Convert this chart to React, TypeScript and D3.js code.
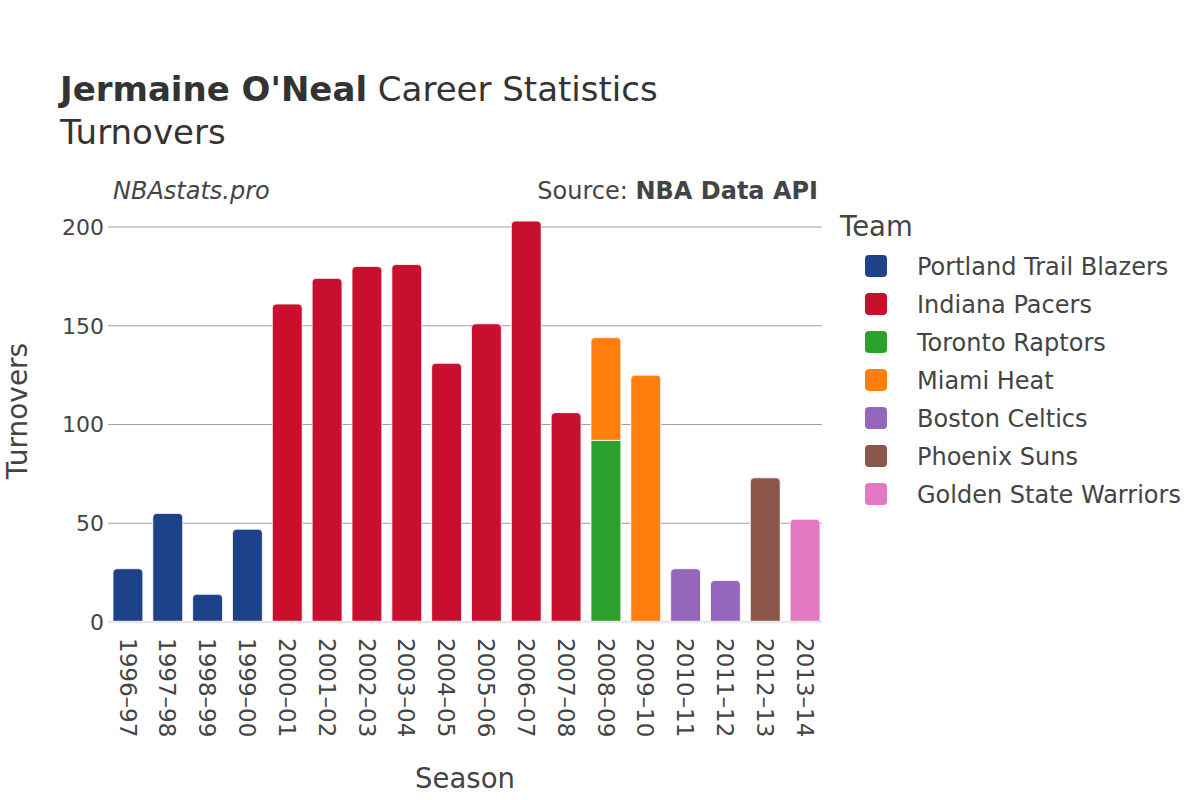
import React from "react";
import * as d3 from "d3";

const seasons = ["1996–97","1997–98","1998–99","1999–00","2000–01","2001–02","2002–03","2003–04","2004–05","2005–06","2006–07","2007–08","2008–09","2009–10","2010–11","2011–12","2012–13","2013–14"];
const teams = ["Portland Trail Blazers","Indiana Pacers","Toronto Raptors","Miami Heat","Boston Celtics","Phoenix Suns","Golden State Warriors"];
const teamColors = ["#1d428a","#c8102e","#2ca02c","#ff7f0e","#9467bd","#8c564b","#e377c2"];
const portland = [27,55,14,47,0,0,0,0,0,0,0,0,0,0,0,0,0,0];
const indiana = [0,0,0,0,161,174,180,181,131,151,203,106,0,0,0,0,0,0];
const toronto = [0,0,0,0,0,0,0,0,0,0,0,0,92,0,0,0,0,0];
const miami = [0,0,0,0,0,0,0,0,0,0,0,0,52,125,0,0,0,0];
const boston = [0,0,0,0,0,0,0,0,0,0,0,0,0,0,27,21,0,0];
const phoenix = [0,0,0,0,0,0,0,0,0,0,0,0,0,0,0,0,73,0];
const warriors = [0,0,0,0,0,0,0,0,0,0,0,0,0,0,0,0,0,52];
const yTicks = [0,50,100,150,200];

const seriesValues = [portland, indiana, toronto, miami, boston, phoenix, warriors];

const FONT = "'DejaVu Sans', sans-serif";

function topRoundedPath(x: number, y0: number, w: number, y1: number, r: number) {
  const h = y0 - y1;
  const rr = Math.min(r, h, w / 2);
  return `M${x},${y0}L${x},${y1 + rr}Q${x},${y1} ${x + rr},${y1}L${x + w - rr},${y1}Q${x + w},${y1} ${x + w},${y1 + rr}L${x + w},${y0}Z`;
}

export default function App() {
  const width = 1200, height = 800;
  const x = d3.scaleBand<string>().domain(seasons).range([108, 825]).paddingInner(0.25).paddingOuter(0.125);
  const y = d3.scaleLinear().domain([0, 200]).range([622, 227]);

  const table = seasons.map((s, i) => {
    const row: any = { season: s };
    teams.forEach((t, j) => (row[t] = seriesValues[j][i]));
    return row;
  });
  const stacked = d3.stack<any>().keys(teams)(table);

  const topIdx = seasons.map((_, i) => {
    let k = -1;
    seriesValues.forEach((arr, j) => { if (arr[i] > 0) k = j; });
    return k;
  });

  const bw = x.bandwidth();

  return (
    <svg width={width} height={height} style={{ display: "block", position: "absolute", left: 0, top: 0, background: "#fff" }}>
      {yTicks.filter(t => t > 0).map(t => (
        <line key={t} x1={108} x2={822} y1={y(t)} y2={y(t)} stroke="#a0a0a0" strokeWidth={1} />
      ))}
      {stacked.map((layer, j) => (
        <g key={teams[j]}>
          {layer.map((d, i) => {
            const v = seriesValues[j][i];
            if (!v) return null;
            const x0 = x(seasons[i])!;
            const yb = y(d[0]);
            const yt = y(d[1]);
            const path = topIdx[i] === j
              ? topRoundedPath(x0, yb, bw, yt, 4)
              : `M${x0},${yb}L${x0},${yt}L${x0 + bw},${yt}L${x0 + bw},${yb}Z`;
            return <path key={i} d={path} fill={teamColors[j]} stroke="#fff" strokeWidth={0.8} />;
          })}
        </g>
      ))}
      <line x1={108} x2={822} y1={y(0)} y2={y(0)} stroke="#e8e8e8" strokeWidth={2.5} />
      {yTicks.map(t => (
        <text key={t} x={104} y={y(t)} dy="0.36em" textAnchor="end" fontFamily={FONT} fontSize={22} fill="#444">{t}</text>
      ))}
      {seasons.map(s => (
        <text key={s} transform={`translate(${x(s)! + bw / 2},638) rotate(90)`} dy="0.36em" textAnchor="start" fontFamily={FONT} fontSize={23} fill="#444">{s}</text>
      ))}
      <text x={465} y={788} textAnchor="middle" fontFamily={FONT} fontSize={27.5} fill="#444">Season</text>
      <text transform="translate(27,411) rotate(-90)" textAnchor="middle" fontFamily={FONT} fontSize={28} fill="#444">Turnovers</text>
      <text x={60} y={101} fontFamily={FONT} fontSize={34} fill="#333">
        <tspan fontWeight="bold">Jermaine O'Neal</tspan><tspan> Career Statistics</tspan>
      </text>
      <text x={60} y={144} fontFamily={FONT} fontSize={34} fill="#333">Turnovers</text>
      <text x={113} y={199} fontFamily={FONT} fontSize={24} fontStyle="italic" fill="#444">NBAstats.pro</text>
      <text x={818} y={199} textAnchor="end" fontFamily={FONT} fontSize={24} fill="#444">
        <tspan>Source: </tspan><tspan fontWeight="bold">NBA Data API</tspan>
      </text>
      <text x={840} y={236} fontFamily={FONT} fontSize={27.5} fill="#444">Team</text>
      {teams.map((t, i) => (
        <g key={t} transform={`translate(0,${266 + i * 38})`}>
          <rect x={865} y={-11} width={22} height={22} rx={4} fill={teamColors[i]} />
          <text x={917} y={0} dy="0.36em" fontFamily={FONT} fontSize={24} fill="#444">{t}</text>
        </g>
      ))}
    </svg>
  );
}
